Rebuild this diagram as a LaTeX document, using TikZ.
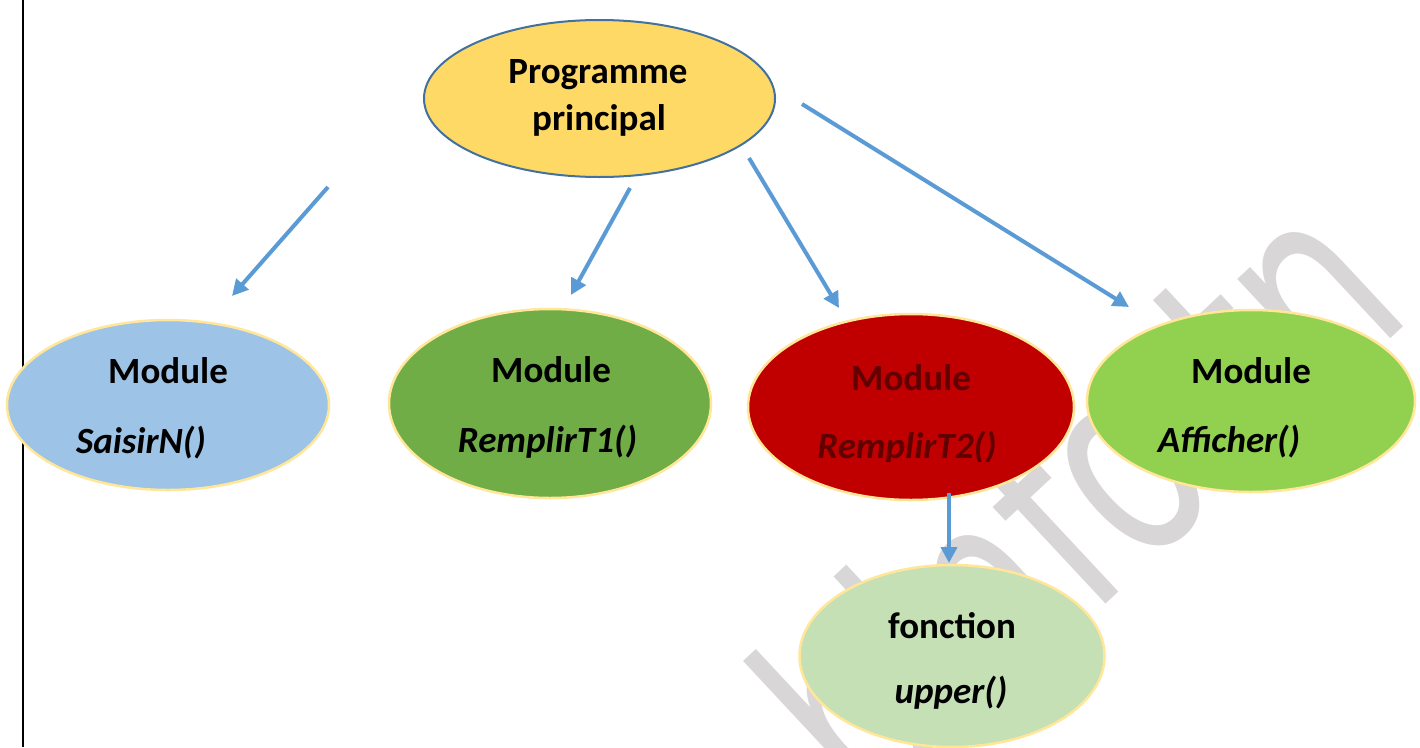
\documentclass[tikz,border=0pt]{standalone}
\usepackage{fontspec}
\setmainfont{Carlito}
\newfontfamily\markfont{DejaVu Sans}
\usetikzlibrary{arrows.meta,shapes.geometric}
\definecolor{progfill}{RGB}{255,217,102}
\definecolor{progline}{RGB}{65,113,156}
\definecolor{modline}{RGB}{255,230,153}
\definecolor{bluefill}{RGB}{157,195,230}
\definecolor{darkgreenfill}{RGB}{112,173,71}
\definecolor{redfill}{RGB}{192,0,0}
\definecolor{redtext}{RGB}{96,0,0}
\definecolor{limefill}{RGB}{146,208,80}
\definecolor{palefill}{RGB}{197,224,180}
\definecolor{arrowblue}{RGB}{91,155,213}
\definecolor{markgray}{RGB}{216,214,215}
\begin{document}
\begin{tikzpicture}[x=1pt,y=-1pt,
  blob/.style={ellipse, inner sep=0pt, line width=2.5pt, draw=modline},
  lbl/.style={font=\fontsize{37}{37}\selectfont\bfseries, anchor=base, inner sep=0pt},
  fn/.style={lbl, font=\fontsize{37}{37}\selectfont\bfseries\itshape},
  conn/.style={arrowblue, line width=4pt, -{Triangle[length=16pt,width=16pt]}},
  wmark/.style={markgray, anchor=base west, inner sep=0pt, rotate=43,
    font=\markfont\fontsize{270}{270}\selectfont}]
\useasboundingbox (0,0) rectangle (1420,747);
\fill[white] (0,0) rectangle (1420,747);

% background watermark
\node[wmark] (wm) at (870,824) {\scalebox{0.72}[1]{binfo.tn}};

% page margin rule
\coordinate (ruletop) at (23,0);
\coordinate (rulebot) at (23,747);
\draw[line width=2pt] (ruletop) -- (rulebot);

% ellipses
\node[ellipse, inner sep=0pt, line width=2pt, draw=progline, fill=progfill,
      minimum width=351pt, minimum height=157pt] (prog) at (599.5,98.5) {};
\node[blob, fill=bluefill, minimum width=322pt, minimum height=170pt] (saisir) at (168,405) {};
\node[blob, fill=darkgreenfill, minimum width=322pt, minimum height=189pt] (rempA) at (550,403.5) {};
\node[blob, fill=redfill, minimum width=326pt, minimum height=186pt] (rempB) at (911,407) {};
\node[blob, fill=limefill, minimum width=328pt, minimum height=182pt] (affich) at (1251,401) {};
\node[blob, fill=palefill, minimum width=305pt, minimum height=182pt] (fonct) at (952,656) {};

% labels
\node[lbl] (progA) at (598,83) {Programme};
\node[lbl] (progB) at (599,130) {principal};

\node[lbl] (saisirA) at (168,383) {Module};
\node[fn]  (saisirB) at (141,453) {SaisirN()};

\node[lbl] (rempAa) at (551,382) {Module};
\node[fn]  (rempAb) at (547.5,452) {RemplirT1()};

\node[lbl, text=redtext] (rempBa) at (911,390) {Module};
\begin{scope}
  \clip (800,400) rectangle (1020,461);
  \node[fn, text=redtext] (rempBb) at (907,458) {RemplirT2()};
\end{scope}

\node[lbl] (affichA) at (1251,383) {Module};
\node[fn]  (affichB) at (1229,452) {Afficher()};

\node[lbl] (fonctA) at (952,638) {fonction};
\node[fn]  (fonctB) at (951,703) {upper()};

% connectors
\coordinate (c1s) at (328,187);  \coordinate (c1e) at (232,296);
\coordinate (c2s) at (630,188);  \coordinate (c2e) at (571,295);
\coordinate (c3s) at (749,158);  \coordinate (c3e) at (839,308);
\coordinate (c4s) at (802,104);  \coordinate (c4e) at (1129,307);
\coordinate (c5s) at (949,493);  \coordinate (c5e) at (949,563);
\draw[conn] (c1s) -- (c1e);
\draw[conn] (c2s) -- (c2e);
\draw[conn] (c3s) -- (c3e);
\draw[conn] (c4s) -- (c4e);
\draw[conn] (c5s) -- (c5e);
\end{tikzpicture}
\end{document}
